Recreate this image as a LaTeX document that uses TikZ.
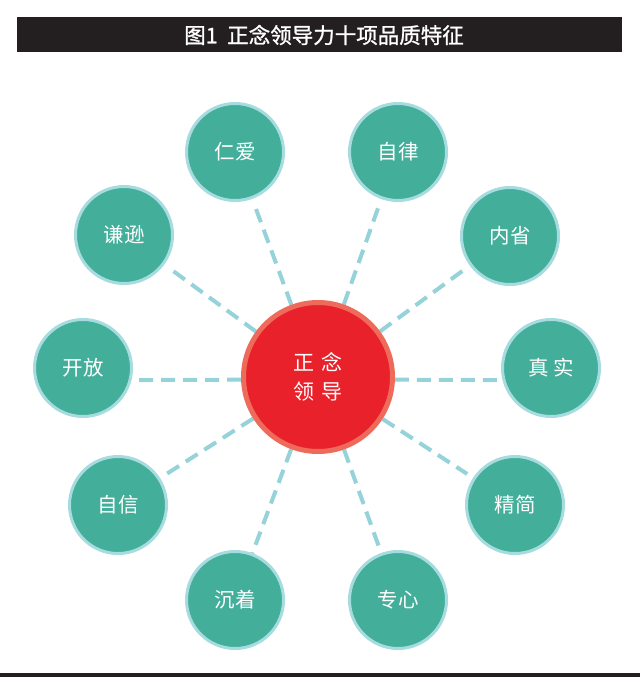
\documentclass[tikz,border=0pt]{standalone}
\usepackage{fontspec}
\usetikzlibrary{backgrounds}
\newfontfamily\cjk{Noto Sans CJK SC}
\newfontfamily\cjktitle[FakeBold=1.2]{Noto Sans CJK SC}
\definecolor{tealfill}{HTML}{43AE9A}
\definecolor{tealrim}{HTML}{A6DCDF}
\definecolor{redfill}{HTML}{E8212B}
\definecolor{redrim}{HTML}{EE6B5B}
\definecolor{dashblue}{HTML}{96D2DA}
\definecolor{barblack}{HTML}{231F20}
\tikzset{
  quality/.style={circle, fill=tealfill, draw=tealrim, line width=3pt,
    minimum size=97pt, inner sep=0pt, text=white, font=\cjk\fontsize{20.5}{22}\selectfont},
  core/.style={circle, fill=redfill, draw=redrim, line width=5pt,
    minimum size=149pt, inner sep=0pt, text=white, align=center,
    font=\cjk\fontsize{21}{29}\selectfont},
  spoke/.style={dashblue, line width=4pt, dash pattern=on 14pt off 8pt}
}
\begin{document}
\begin{tikzpicture}[x=1pt, y=-1pt]
                
                % frame
                \begin{scope}[on background layer]
                  \fill[white] (0,0) rectangle (640,677);
                \end{scope}
                \useasboundingbox (0,0) rectangle (640,677);
                \fill[barblack] (17,17) rectangle (622,52);
                \node[text=white, font=\cjktitle\fontsize{21.5}{24}\selectfont] (title) at (324,35) {图1\ \ 正念领导力十项品质特征};
                \fill[barblack] (0,673) rectangle (640,677);
                % centre
                \node[core] (zn) at (318,377) {正\,\,念\\领\,\,导};
                % qualities
                \node[quality] (renai)  at (235,152) {仁爱};
                \node[quality] (zilv)   at (398,152) {自律};
                \node[quality] (qianxun) at (124,235) {谦逊};
                \node[quality] (neixing) at (510,236) {内省};
                \node[quality] (kaifang) at (83,368)  {开放};
                \node[quality] (zhenshi) at (551,368) {真\ 实};
                \node[quality] (zixin)  at (118,505) {自信};
                \node[quality] (jingjian) at (515,505) {精简};
                \node[quality] (chenzhuo) at (235,600) {沉着};
                \node[quality] (zhuanxin) at (398,600) {专心};
                % spokes
                \begin{scope}[on background layer]
                  \foreach \q in {renai,zilv,qianxun,neixing,zixin,jingjian}
                    \draw[spoke, shorten >=7pt] (zn) -- (\q);
                  \foreach \q in {chenzhuo,zhuanxin}
                    \draw[spoke] (zn) -- (\q);
                  \draw[spoke] (zn.182) -- (kaifang.-14);
                  \draw[spoke] (zn.-2) -- (zhenshi.194);
                \end{scope}
                
\end{tikzpicture}
\end{document}
